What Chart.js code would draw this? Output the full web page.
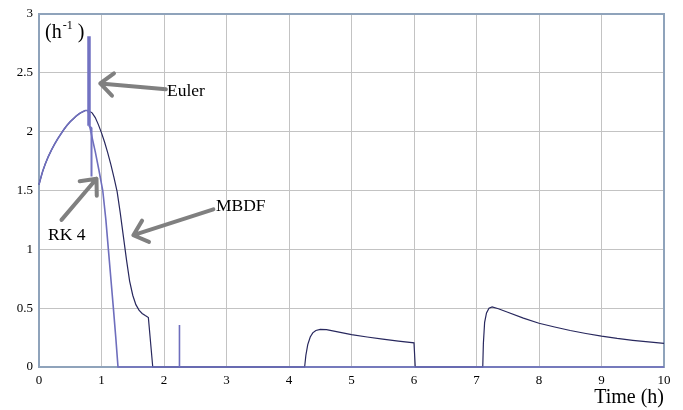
<!DOCTYPE html>
<html>
<head>
<meta charset="utf-8">
<script src="https://cdn.jsdelivr.net/npm/chart.js@4/dist/chart.umd.min.js"></script>
<style>
  html, body { margin:0; padding:0; background:#fff; }
  canvas { display:block; }
</style>
</head>
<body>
<canvas id="chart" width="683" height="410"></canvas>
<script>
// datos
const xTicks = [0,1,2,3,4,5,6,7,8,9,10];
const yTicks = [0,0.5,1,1.5,2,2.5,3];

const riseX = [0,0.03,0.06,0.1,0.15,0.2,0.25,0.3,0.35,0.4,0.45,0.5,0.55,0.6,0.65,0.7,0.74,0.78];
const riseY = [1.55,1.61,1.665,1.725,1.79,1.845,1.895,1.94,1.98,2.02,2.055,2.085,2.11,2.135,2.155,2.17,2.18,2.18];

const mbdfX = [0.82,0.85,0.9,0.95,1.0,1.05,1.1,1.15,1.2,1.25,1.3,1.35,1.4,1.45,1.5,1.55,1.6,1.65,1.7,1.75,1.82,
               4.25,4.27,4.3,4.34,4.38,4.43,4.5,4.6,4.8,5,5.25,5.5,5.75,6,6.02,
               7.1,7.11,7.13,7.16,7.2,7.25,7.35,7.5,7.75,8,8.25,8.5,8.75,9,9.25,9.5,9.75,10];
const mbdfY = [2.17,2.16,2.12,2.06,1.99,1.91,1.82,1.72,1.61,1.49,1.31,1.11,0.91,0.73,0.61,0.53,0.483,0.455,0.437,0.42,0,
               0,0.1,0.19,0.255,0.29,0.31,0.32,0.317,0.297,0.275,0.255,0.237,0.22,0.205,0,
               0,0.2,0.38,0.46,0.5,0.51,0.495,0.465,0.415,0.372,0.34,0.31,0.285,0.262,0.243,0.227,0.213,0.2];

const rk4X = [0.80,0.805,0.85,0.9,0.96,1.02,1.07,1.11,1.15,1.19,1.23,1.264,2.24,2.245,2.25,10];
const rk4Y = [2.15,2.06,1.95,1.83,1.67,1.5,1.25,1.0,0.75,0.5,0.24,0,0,0.357,0,0];

const eulerX = [0.80,0.80,0.84,0.84];
const eulerY = [2.81,2.05,2.03,1.62];

// flechas: [texto, cola x, cola y, punta x, punta y]
const arrows = [
  ['Euler', 2.03, 2.36, 0.98, 2.41],
  ['RK 4', 0.36, 1.25, 0.92, 1.60],
  ['MBDF', 2.79, 1.34, 1.51, 1.12]
];

const pts = (xs, ys) => xs.map((x, i) => ({ x, y: ys[i] }));
const SERIF = '"Liberation Serif", "Times New Roman", serif';

const frame = {
  id: 'frame',
  beforeDatasetsDraw(chart) {
    const { ctx, chartArea: a } = chart;
    ctx.save();
    ctx.strokeStyle = '#8fa3bb';
    ctx.lineWidth = 2;
    ctx.strokeRect(a.left, a.top, a.right - a.left, a.bottom - a.top);
    ctx.restore();
  },
  afterDatasetsDraw(chart) {
    const { ctx, scales: { x, y } } = chart;
    ctx.save();
    // flechas
    ctx.strokeStyle = '#808080';
    ctx.lineWidth = 4;
    ctx.lineCap = 'round';
    ctx.lineJoin = 'round';
    arrows.forEach(([txt, tx, ty, hx, hy]) => {
      const x0 = x.getPixelForValue(tx), y0 = y.getPixelForValue(ty);
      const x1 = x.getPixelForValue(hx), y1 = y.getPixelForValue(hy);
      const ang = Math.atan2(y0 - y1, x0 - x1);
      const L = 17, da = 0.72;
      ctx.beginPath();
      ctx.moveTo(x0, y0); ctx.lineTo(x1, y1);
      ctx.moveTo(x1 + L*Math.cos(ang - da), y1 + L*Math.sin(ang - da));
      ctx.lineTo(x1, y1);
      ctx.lineTo(x1 + L*Math.cos(ang + da), y1 + L*Math.sin(ang + da));
      ctx.stroke();
    });
    // textos
    ctx.fillStyle = '#000';
    ctx.textBaseline = 'alphabetic';
    ctx.font = '17.5px ' + SERIF;
    ctx.textAlign = 'left';
    ctx.fillText('Euler', 167, 96);
    ctx.fillText('RK 4', 48, 240);
    ctx.fillText('MBDF', 216, 211);
    // unidades
    ctx.font = '20px ' + SERIF;
    ctx.fillText('(h', 45, 38);
    let w = ctx.measureText('(h').width;
    ctx.font = '12px ' + SERIF;
    ctx.fillText('-1', 45 + w + 1, 29);
    let w2 = ctx.measureText('-1').width;
    ctx.font = '20px ' + SERIF;
    ctx.fillText(' )', 45 + w + w2 + 1, 38);
    // titulo eje x
    ctx.font = '20px ' + SERIF;
    ctx.textAlign = 'right';
    ctx.fillText('Time (h)', 664, 403);
    ctx.restore();
  }
};

const line = { pointRadius:0, tension:0, clip:false };

new Chart(document.getElementById('chart'), {
  type: 'line',
  data: {
    datasets: [
      { ...line, label:'MBDF', order:3, data: pts(riseX.concat(mbdfX), riseY.concat(mbdfY)), borderColor:'#28285e', borderWidth:1.2 },
      { ...line, label:'RK 4', order:2, data: pts(riseX.concat(rk4X), riseY.concat(rk4Y)), borderColor:'#6e6ebd', borderWidth:1.6 },
      { ...line, label:'Euler', order:1, data: pts(eulerX, eulerY), borderColor:'#7272c2',
        segment: { borderWidth: c => c.p0DataIndex === 0 ? 3.5 : 2 } }
    ]
  },
  options: {
    responsive: false,
    animation: false,
    layout: { padding: { top: 14, right: 19, left: 0, bottom: 0 } },
    plugins: { legend: { display:false }, tooltip: { enabled:false } },
    scales: {
      x: {
        type: 'linear', min: 0, max: 10,
        afterBuildTicks: s => { s.ticks = xTicks.map(v => ({ value: v })); },
        afterFit: s => { s.height = 43; },
        grid: { color:'#c3c3c3', lineWidth:1, drawTicks:false },
        border: { display:false },
        ticks: { padding: 6, color:'#000', font: { family: SERIF, size: 13 }, maxRotation: 0 }
      },
      y: {
        type: 'linear', min: 0, max: 3,
        afterBuildTicks: s => { s.ticks = yTicks.map(v => ({ value: v })); },
        afterFit: s => { s.width = 39; },
        grid: { color:'#c3c3c3', lineWidth:1, drawTicks:false },
        border: { display:false },
        ticks: { padding: 6, color:'#000', font: { family: SERIF, size: 13 }, callback: v => String(v) }
      }
    }
  },
  plugins: [frame]
});
</script>
</body>
</html>
